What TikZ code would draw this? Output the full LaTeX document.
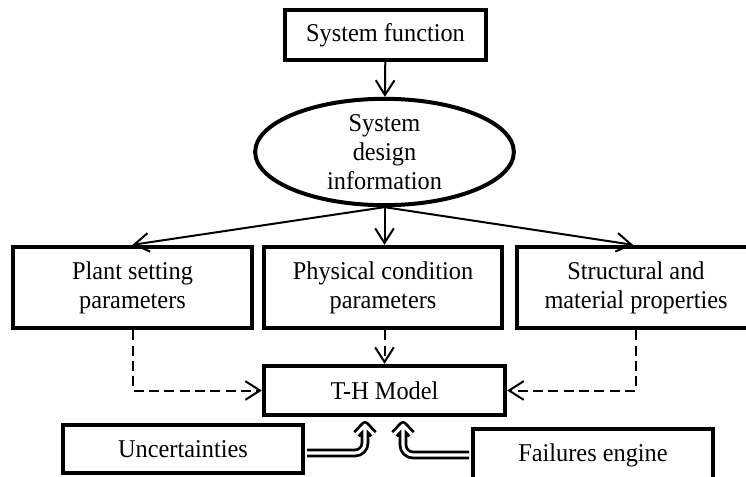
\documentclass[tikz,border=0pt]{standalone}
\usepackage{fontspec}
\setmainfont{Liberation Serif}[FakeStretch=0.95]
\usetikzlibrary{arrows.meta,shapes.geometric,calc}
\begin{document}
\begin{tikzpicture}[x=0.75pt,y=-0.75pt,
  every node/.style={font=\fontsize{19.2}{21.75}\selectfont, align=center, inner sep=0pt},
  box/.style={draw, line width=3pt, rectangle},
  ellbox/.style={draw, line width=3pt, ellipse},
  conn/.style={line width=1.5pt, -{Straight Barb[length=11pt,width=14pt,line width=1.5pt]}},
  dconn/.style={conn, dash pattern=on 7.5pt off 4pt},
  dbl/.style={line width=2.1pt, double, double distance=2.3pt, line join=round}]
\useasboundingbox (0,0) rectangle (746,477);
\node[box, minimum width=151pt, minimum height=37.5pt] (sf) at (385.5,35) {System function};
\node[ellbox, minimum width=194pt, minimum height=78pt] (ell) at (384.5,152) {System\\design\\information};
\node[box, minimum width=179pt, minimum height=61pt] (plant) at (132.5,287.5) {Plant setting\\parameters};
\node[box, minimum width=178.5pt, minimum height=61pt] (phys) at (383,287.5) {Physical condition\\parameters};
\node[box, minimum width=178.5pt, minimum height=61pt] (struct) at (636,287.5) {Structural and\\material properties};
\node[box, minimum width=181pt, minimum height=37pt] (th) at (384.5,390.5) {T-H Model};
\node[box, minimum width=180pt, minimum height=36pt] (unc) at (183,449) {Uncertainties};
\node[box, minimum width=180pt, minimum height=39pt] (fail) at (593,455) {Failures engine};
\draw[conn] (sf) -- (ell);
\draw[conn] (ell.south) -- (plant.north);
\draw[conn] (ell.south) -- (phys.north -| ell.south);
\draw[conn] (ell.south) -- ([xshift=-2.25pt]struct.north);
\draw[dconn] (plant.south) |- (th.west);
\draw[dconn] (struct.south) |- (th.east);
\draw[dconn] (phys.south -| th.north) -- (th.north);
\coordinate (lt) at ($(th.south)+(-19.5,8)$);
\coordinate (rt) at ($(th.south)+(18.5,8)$);
\coordinate (us) at ($(unc.east)+(2,4)$);
\coordinate (fs) at ($(fail.west)+(-2,0)$);
\draw[dbl] (us) [rounded corners=7.5pt] -| (lt) [sharp corners] ++(-8.5,9) -- (lt) -- ++(8.5,9);
\draw[dbl] (fs) [rounded corners=7.5pt] -| (rt) [sharp corners] ++(-8.5,9) -- (rt) -- ++(8.5,9);
\end{tikzpicture}
\end{document}
